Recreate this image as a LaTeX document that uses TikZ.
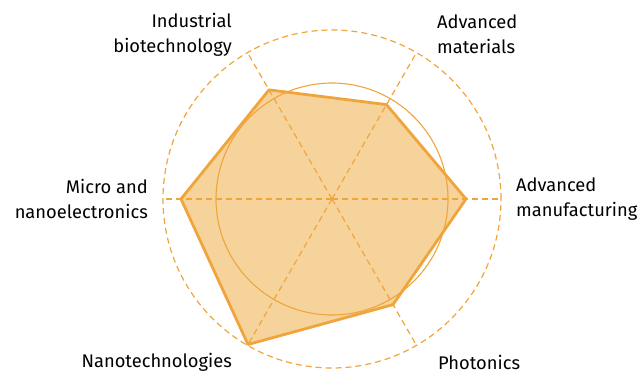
\documentclass[tikz,border=0pt]{standalone}
\usepackage{fontspec}
\setmainfont{Fira Sans}
\usetikzlibrary{calc}

\definecolor{radarline}{HTML}{F0A53C}
\definecolor{radarfill}{HTML}{F6D39B}

\tikzset{
  gridline/.style={radarline, line width=1.2pt, dash pattern=on 6pt off 4pt},
  axislabel/.style={inner sep=0pt, font=\fontsize{18.3}{25}\selectfont},
}

\begin{document}
\begin{tikzpicture}[x=1pt,y=1pt]

%chart info
\def\R{169}
\def\r{116}
%bounding box
\useasboundingbox (-332,-175) rectangle (312,199);
\coordinate (O) at (0,0);
%axis end points
\foreach \a [count=\i] in {0,60,120,180,240,300}{
  \coordinate (A\i) at (\a:\R);
}
%score points
\foreach \a/\v [count=\i] in {0/134,60/109,120/126,180/151,240/168,300/122}{
  \coordinate (P\i) at (\a:\v);
}

%fill
\fill[radarfill] (P1) -- (P2) -- (P3) -- (P4) -- (P5) -- (P6) -- cycle;

%grid
\draw[gridline] (O) circle (\R);
\foreach \i in {1,...,6}{
  \draw[gridline] (O) -- (A\i);
}
\draw[radarline, line width=1.1pt] (O) circle (\r);

%draw score outline
\draw[radarline, line width=2.8pt, line join=round] (P1) -- (P2) -- (P3) -- (P4) -- (P5) -- (P6) -- cycle;

%labels
\node[axislabel, anchor=west, align=left]  (manuf)   at (184,0)      {Advanced\\manufacturing};
\node[axislabel, anchor=west, align=left]  (mater)   at (105,164.5)  {Advanced\\materials};
\node[axislabel, anchor=east, align=right] (biotech) at (-100,164.5) {Industrial\\biotechnology};
\node[axislabel, anchor=east, align=right] (micro)   at (-184,0)     {Micro and\\nanoelectronics};
\node[axislabel, anchor=east]              (nano)    at (-100,-163)  {Nanotechnologies};
\node[axislabel, anchor=west]              (photo)   at (106,-163)   {Photonics};

\end{tikzpicture}
\end{document}
